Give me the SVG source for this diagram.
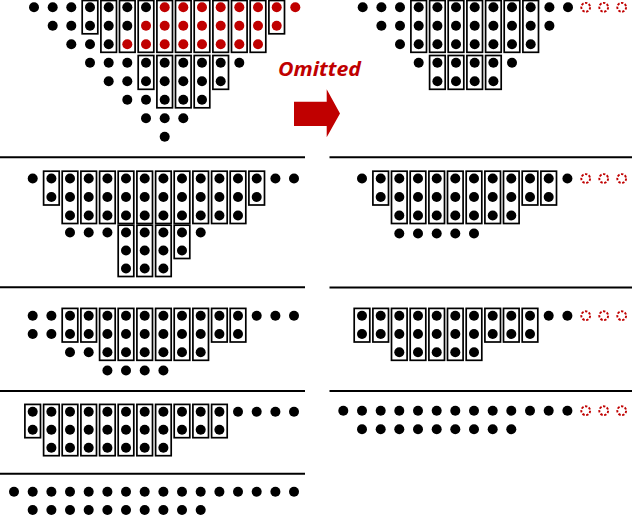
<svg xmlns="http://www.w3.org/2000/svg" width="632" height="516" viewBox="0 0 632 516">
<style>
.d{fill:#000}
.r{fill:#c00000}
.o{fill:none;stroke:#c00000;stroke-width:1.9;stroke-dasharray:2.4 1.5}
.b{fill:none;stroke:#000;stroke-width:1.7}
.ln{stroke:#000;stroke-width:2}
</style>
<rect width="632" height="516" fill="#fff"/>
<g id="separators">
<line class="ln" x1="0" y1="157.3" x2="305" y2="157.3"/>
<line class="ln" x1="0" y1="287.3" x2="305" y2="287.3"/>
<line class="ln" x1="0" y1="391" x2="305" y2="391"/>
<line class="ln" x1="0" y1="473.7" x2="305" y2="473.7"/>
<line class="ln" x1="329.5" y1="157.3" x2="632" y2="157.3"/>
<line class="ln" x1="329.5" y1="287.5" x2="632" y2="287.5"/>
<line class="ln" x1="329.5" y1="391" x2="632" y2="391"/>
</g>
<g id="omitted-arrow">
<text x="278" y="76" font-family="'Open Sans','Liberation Sans',sans-serif" font-size="19.5" font-weight="bold" font-style="italic" fill="#c00000" textLength="83" lengthAdjust="spacingAndGlyphs">Omitted</text>
<polygon points="294,101.7 326.7,101.7 326.7,89.3 340,113.5 326.7,137.3 326.7,126 294,126" fill="#c00000"/>
</g>
<g id="panel1-left">
<g class="boxes">
<rect class="b" x="82.2" y="0.5" width="15.6" height="33.3"/>
<rect class="b" x="100.9" y="0.5" width="15.6" height="51.8"/>
<rect class="b" x="119.5" y="0.5" width="15.6" height="51.8"/>
<rect class="b" x="138.2" y="0.5" width="15.6" height="51.8"/>
<rect class="b" x="156.9" y="0.5" width="15.6" height="51.8"/>
<rect class="b" x="175.5" y="0.5" width="15.6" height="51.8"/>
<rect class="b" x="194.2" y="0.5" width="15.6" height="51.8"/>
<rect class="b" x="212.9" y="0.5" width="15.6" height="51.8"/>
<rect class="b" x="231.5" y="0.5" width="15.6" height="51.8"/>
<rect class="b" x="250.2" y="0.5" width="15.6" height="51.8"/>
<rect class="b" x="268.9" y="0.5" width="15.6" height="33.3"/>
<rect class="b" x="138.2" y="55.5" width="15.6" height="33.8"/>
<rect class="b" x="156.9" y="55.5" width="15.6" height="52.3"/>
<rect class="b" x="175.5" y="55.5" width="15.6" height="52.3"/>
<rect class="b" x="194.2" y="55.5" width="15.6" height="52.3"/>
<rect class="b" x="212.9" y="55.5" width="15.6" height="33.8"/>
</g>
<g class="dots">
<circle class="d" cx="34" cy="7.3" r="5"/><circle class="d" cx="52.7" cy="7.3" r="5"/><circle class="d" cx="71.3" cy="7.3" r="5"/><circle class="d" cx="90" cy="7.3" r="5"/><circle class="d" cx="108.7" cy="7.3" r="5"/><circle class="d" cx="127.3" cy="7.3" r="5"/><circle class="d" cx="146" cy="7.3" r="5"/><circle class="r" cx="164.7" cy="7.3" r="5"/><circle class="r" cx="183.3" cy="7.3" r="5"/><circle class="r" cx="202" cy="7.3" r="5"/><circle class="r" cx="220.7" cy="7.3" r="5"/><circle class="r" cx="239.3" cy="7.3" r="5"/><circle class="r" cx="258" cy="7.3" r="5"/><circle class="r" cx="276.7" cy="7.3" r="5"/><circle class="r" cx="295.3" cy="7.3" r="5"/>
<circle class="d" cx="52.7" cy="25.8" r="5"/><circle class="d" cx="71.3" cy="25.8" r="5"/><circle class="d" cx="90" cy="25.8" r="5"/><circle class="d" cx="108.7" cy="25.8" r="5"/><circle class="d" cx="127.3" cy="25.8" r="5"/><circle class="r" cx="146" cy="25.8" r="5"/><circle class="r" cx="164.7" cy="25.8" r="5"/><circle class="r" cx="183.3" cy="25.8" r="5"/><circle class="r" cx="202" cy="25.8" r="5"/><circle class="r" cx="220.7" cy="25.8" r="5"/><circle class="r" cx="239.3" cy="25.8" r="5"/><circle class="r" cx="258" cy="25.8" r="5"/><circle class="r" cx="276.7" cy="25.8" r="5"/>
<circle class="d" cx="71.3" cy="44.3" r="5"/><circle class="d" cx="90" cy="44.3" r="5"/><circle class="d" cx="108.7" cy="44.3" r="5"/><circle class="r" cx="127.3" cy="44.3" r="5"/><circle class="r" cx="146" cy="44.3" r="5"/><circle class="r" cx="164.7" cy="44.3" r="5"/><circle class="r" cx="183.3" cy="44.3" r="5"/><circle class="r" cx="202" cy="44.3" r="5"/><circle class="r" cx="220.7" cy="44.3" r="5"/><circle class="r" cx="239.3" cy="44.3" r="5"/><circle class="r" cx="258" cy="44.3" r="5"/>
<circle class="d" cx="90" cy="62.8" r="5"/><circle class="d" cx="108.7" cy="62.8" r="5"/><circle class="d" cx="127.3" cy="62.8" r="5"/><circle class="d" cx="146" cy="62.8" r="5"/><circle class="d" cx="164.7" cy="62.8" r="5"/><circle class="d" cx="183.3" cy="62.8" r="5"/><circle class="d" cx="202" cy="62.8" r="5"/><circle class="d" cx="220.7" cy="62.8" r="5"/><circle class="d" cx="239.3" cy="62.8" r="5"/>
<circle class="d" cx="108.7" cy="81.3" r="5"/><circle class="d" cx="127.3" cy="81.3" r="5"/><circle class="d" cx="146" cy="81.3" r="5"/><circle class="d" cx="164.7" cy="81.3" r="5"/><circle class="d" cx="183.3" cy="81.3" r="5"/><circle class="d" cx="202" cy="81.3" r="5"/><circle class="d" cx="220.7" cy="81.3" r="5"/>
<circle class="d" cx="127.3" cy="99.8" r="5"/><circle class="d" cx="146" cy="99.8" r="5"/><circle class="d" cx="164.7" cy="99.8" r="5"/><circle class="d" cx="183.3" cy="99.8" r="5"/><circle class="d" cx="202" cy="99.8" r="5"/>
<circle class="d" cx="146" cy="118.3" r="5"/><circle class="d" cx="164.7" cy="118.3" r="5"/><circle class="d" cx="183.3" cy="118.3" r="5"/>
<circle class="d" cx="164.7" cy="136.8" r="5"/>
</g>
</g>
<g id="panel1-right">
<g class="boxes">
<rect class="b" x="410.9" y="0.5" width="15.6" height="51.8"/>
<rect class="b" x="429.6" y="0.5" width="15.6" height="51.8"/>
<rect class="b" x="448.2" y="0.5" width="15.6" height="51.8"/>
<rect class="b" x="466.9" y="0.5" width="15.6" height="51.8"/>
<rect class="b" x="485.6" y="0.5" width="15.6" height="51.8"/>
<rect class="b" x="504.2" y="0.5" width="15.6" height="51.8"/>
<rect class="b" x="522.9" y="0.5" width="15.6" height="51.8"/>
<rect class="b" x="429.6" y="55.5" width="15.6" height="33.8"/>
<rect class="b" x="448.2" y="55.5" width="15.6" height="33.8"/>
<rect class="b" x="466.9" y="55.5" width="15.6" height="33.8"/>
<rect class="b" x="485.6" y="55.5" width="15.6" height="33.8"/>
</g>
<g class="dots">
<circle class="d" cx="362.7" cy="7.3" r="5"/><circle class="d" cx="381.4" cy="7.3" r="5"/><circle class="d" cx="400" cy="7.3" r="5"/><circle class="d" cx="418.7" cy="7.3" r="5"/><circle class="d" cx="437.4" cy="7.3" r="5"/><circle class="d" cx="456" cy="7.3" r="5"/><circle class="d" cx="474.7" cy="7.3" r="5"/><circle class="d" cx="493.4" cy="7.3" r="5"/><circle class="d" cx="512" cy="7.3" r="5"/><circle class="d" cx="530.7" cy="7.3" r="5"/><circle class="d" cx="549.4" cy="7.3" r="5"/><circle class="d" cx="568" cy="7.3" r="5"/>
<circle class="o" cx="585.7" cy="7.3" r="4.4"/><circle class="o" cx="603.7" cy="7.3" r="4.4"/><circle class="o" cx="621.7" cy="7.3" r="4.4"/>
<circle class="d" cx="381.4" cy="25.8" r="5"/><circle class="d" cx="400" cy="25.8" r="5"/><circle class="d" cx="418.7" cy="25.8" r="5"/><circle class="d" cx="437.4" cy="25.8" r="5"/><circle class="d" cx="456" cy="25.8" r="5"/><circle class="d" cx="474.7" cy="25.8" r="5"/><circle class="d" cx="493.4" cy="25.8" r="5"/><circle class="d" cx="512" cy="25.8" r="5"/><circle class="d" cx="530.7" cy="25.8" r="5"/><circle class="d" cx="549.4" cy="25.8" r="5"/>
<circle class="d" cx="400" cy="44.3" r="5"/><circle class="d" cx="418.7" cy="44.3" r="5"/><circle class="d" cx="437.4" cy="44.3" r="5"/><circle class="d" cx="456" cy="44.3" r="5"/><circle class="d" cx="474.7" cy="44.3" r="5"/><circle class="d" cx="493.4" cy="44.3" r="5"/><circle class="d" cx="512" cy="44.3" r="5"/><circle class="d" cx="530.7" cy="44.3" r="5"/>
<circle class="d" cx="418.7" cy="62.8" r="5"/><circle class="d" cx="437.4" cy="62.8" r="5"/><circle class="d" cx="456" cy="62.8" r="5"/><circle class="d" cx="474.7" cy="62.8" r="5"/><circle class="d" cx="493.4" cy="62.8" r="5"/><circle class="d" cx="512" cy="62.8" r="5"/>
<circle class="d" cx="437.4" cy="81.3" r="5"/><circle class="d" cx="456" cy="81.3" r="5"/><circle class="d" cx="474.7" cy="81.3" r="5"/><circle class="d" cx="493.4" cy="81.3" r="5"/>
</g>
</g>
<g id="panel2-left">
<g class="boxes">
<rect class="b" x="43.6" y="171.2" width="15.6" height="33.8"/>
<rect class="b" x="62.2" y="171.2" width="15.6" height="52.3"/>
<rect class="b" x="80.9" y="171.2" width="15.6" height="52.3"/>
<rect class="b" x="99.6" y="171.2" width="15.6" height="52.3"/>
<rect class="b" x="118.2" y="171.2" width="15.6" height="52.3"/>
<rect class="b" x="136.9" y="171.2" width="15.6" height="52.3"/>
<rect class="b" x="155.6" y="171.2" width="15.6" height="52.3"/>
<rect class="b" x="174.2" y="171.2" width="15.6" height="52.3"/>
<rect class="b" x="192.9" y="171.2" width="15.6" height="52.3"/>
<rect class="b" x="211.6" y="171.2" width="15.6" height="52.3"/>
<rect class="b" x="230.2" y="171.2" width="15.6" height="52.3"/>
<rect class="b" x="248.9" y="171.2" width="15.6" height="33.8"/>
<rect class="b" x="118.2" y="225.2" width="15.6" height="51.3"/>
<rect class="b" x="136.9" y="225.2" width="15.6" height="51.3"/>
<rect class="b" x="155.6" y="225.2" width="15.6" height="51.3"/>
<rect class="b" x="174.2" y="225.2" width="15.6" height="33.3"/>
</g>
<g class="dots">
<circle class="d" cx="32.7" cy="178.5" r="5"/><circle class="d" cx="51.4" cy="178.5" r="5"/><circle class="d" cx="70" cy="178.5" r="5"/><circle class="d" cx="88.7" cy="178.5" r="5"/><circle class="d" cx="107.4" cy="178.5" r="5"/><circle class="d" cx="126" cy="178.5" r="5"/><circle class="d" cx="144.7" cy="178.5" r="5"/><circle class="d" cx="163.4" cy="178.5" r="5"/><circle class="d" cx="182" cy="178.5" r="5"/><circle class="d" cx="200.7" cy="178.5" r="5"/><circle class="d" cx="219.4" cy="178.5" r="5"/><circle class="d" cx="238" cy="178.5" r="5"/><circle class="d" cx="256.7" cy="178.5" r="5"/><circle class="d" cx="275.4" cy="178.5" r="5"/><circle class="d" cx="294" cy="178.5" r="5"/>
<circle class="d" cx="51.4" cy="197" r="5"/><circle class="d" cx="70" cy="197" r="5"/><circle class="d" cx="88.7" cy="197" r="5"/><circle class="d" cx="107.4" cy="197" r="5"/><circle class="d" cx="126" cy="197" r="5"/><circle class="d" cx="144.7" cy="197" r="5"/><circle class="d" cx="163.4" cy="197" r="5"/><circle class="d" cx="182" cy="197" r="5"/><circle class="d" cx="200.7" cy="197" r="5"/><circle class="d" cx="219.4" cy="197" r="5"/><circle class="d" cx="238" cy="197" r="5"/><circle class="d" cx="256.7" cy="197" r="5"/>
<circle class="d" cx="70" cy="215.5" r="5"/><circle class="d" cx="88.7" cy="215.5" r="5"/><circle class="d" cx="107.4" cy="215.5" r="5"/><circle class="d" cx="126" cy="215.5" r="5"/><circle class="d" cx="144.7" cy="215.5" r="5"/><circle class="d" cx="163.4" cy="215.5" r="5"/><circle class="d" cx="182" cy="215.5" r="5"/><circle class="d" cx="200.7" cy="215.5" r="5"/><circle class="d" cx="219.4" cy="215.5" r="5"/><circle class="d" cx="238" cy="215.5" r="5"/>
<circle class="d" cx="70" cy="232.5" r="5"/><circle class="d" cx="88.7" cy="232.5" r="5"/><circle class="d" cx="107.4" cy="232.5" r="5"/><circle class="d" cx="126" cy="232.5" r="5"/><circle class="d" cx="144.7" cy="232.5" r="5"/><circle class="d" cx="163.4" cy="232.5" r="5"/><circle class="d" cx="182" cy="232.5" r="5"/><circle class="d" cx="200.7" cy="232.5" r="5"/>
<circle class="d" cx="126" cy="250.5" r="5"/><circle class="d" cx="144.7" cy="250.5" r="5"/><circle class="d" cx="163.4" cy="250.5" r="5"/><circle class="d" cx="182" cy="250.5" r="5"/>
<circle class="d" cx="126" cy="268.5" r="5"/><circle class="d" cx="144.7" cy="268.5" r="5"/><circle class="d" cx="163.4" cy="268.5" r="5"/>
</g>
</g>
<g id="panel2-right">
<g class="boxes">
<rect class="b" x="372.9" y="171.2" width="15.6" height="33.8"/>
<rect class="b" x="391.5" y="171.2" width="15.6" height="52.3"/>
<rect class="b" x="410.2" y="171.2" width="15.6" height="52.3"/>
<rect class="b" x="428.9" y="171.2" width="15.6" height="52.3"/>
<rect class="b" x="447.5" y="171.2" width="15.6" height="52.3"/>
<rect class="b" x="466.2" y="171.2" width="15.6" height="52.3"/>
<rect class="b" x="484.9" y="171.2" width="15.6" height="52.3"/>
<rect class="b" x="503.5" y="171.2" width="15.6" height="52.3"/>
<rect class="b" x="522.2" y="171.2" width="15.6" height="33.8"/>
<rect class="b" x="540.9" y="171.2" width="15.6" height="33.8"/>
</g>
<g class="dots">
<circle class="d" cx="362" cy="178.5" r="5"/><circle class="d" cx="380.7" cy="178.5" r="5"/><circle class="d" cx="399.3" cy="178.5" r="5"/><circle class="d" cx="418" cy="178.5" r="5"/><circle class="d" cx="436.7" cy="178.5" r="5"/><circle class="d" cx="455.3" cy="178.5" r="5"/><circle class="d" cx="474" cy="178.5" r="5"/><circle class="d" cx="492.7" cy="178.5" r="5"/><circle class="d" cx="511.3" cy="178.5" r="5"/><circle class="d" cx="530" cy="178.5" r="5"/><circle class="d" cx="548.7" cy="178.5" r="5"/><circle class="d" cx="567.4" cy="178.5" r="5"/>
<circle class="o" cx="585.7" cy="178.5" r="4.4"/><circle class="o" cx="603.7" cy="178.5" r="4.4"/><circle class="o" cx="621.7" cy="178.5" r="4.4"/>
<circle class="d" cx="380.7" cy="197" r="5"/><circle class="d" cx="399.3" cy="197" r="5"/><circle class="d" cx="418" cy="197" r="5"/><circle class="d" cx="436.7" cy="197" r="5"/><circle class="d" cx="455.3" cy="197" r="5"/><circle class="d" cx="474" cy="197" r="5"/><circle class="d" cx="492.7" cy="197" r="5"/><circle class="d" cx="511.3" cy="197" r="5"/><circle class="d" cx="530" cy="197" r="5"/><circle class="d" cx="548.7" cy="197" r="5"/>
<circle class="d" cx="399.3" cy="215.5" r="5"/><circle class="d" cx="418" cy="215.5" r="5"/><circle class="d" cx="436.7" cy="215.5" r="5"/><circle class="d" cx="455.3" cy="215.5" r="5"/><circle class="d" cx="474" cy="215.5" r="5"/><circle class="d" cx="492.7" cy="215.5" r="5"/><circle class="d" cx="511.3" cy="215.5" r="5"/>
<circle class="d" cx="399.3" cy="233.5" r="5"/><circle class="d" cx="418" cy="233.5" r="5"/><circle class="d" cx="436.7" cy="233.5" r="5"/><circle class="d" cx="455.3" cy="233.5" r="5"/><circle class="d" cx="474" cy="233.5" r="5"/>
</g>
</g>
<g id="panel3-left">
<g class="boxes">
<rect class="b" x="62.2" y="308.4" width="15.6" height="33.6"/>
<rect class="b" x="80.9" y="308.4" width="15.6" height="33.6"/>
<rect class="b" x="99.6" y="308.4" width="15.6" height="51.9"/>
<rect class="b" x="118.2" y="308.4" width="15.6" height="51.9"/>
<rect class="b" x="136.9" y="308.4" width="15.6" height="51.9"/>
<rect class="b" x="155.6" y="308.4" width="15.6" height="51.9"/>
<rect class="b" x="174.2" y="308.4" width="15.6" height="51.9"/>
<rect class="b" x="192.9" y="308.4" width="15.6" height="51.9"/>
<rect class="b" x="211.6" y="308.4" width="15.6" height="33.6"/>
<rect class="b" x="230.2" y="308.4" width="15.6" height="33.6"/>
</g>
<g class="dots">
<circle class="d" cx="32.7" cy="315.7" r="5"/><circle class="d" cx="51.4" cy="315.7" r="5"/><circle class="d" cx="70" cy="315.7" r="5"/><circle class="d" cx="88.7" cy="315.7" r="5"/><circle class="d" cx="107.4" cy="315.7" r="5"/><circle class="d" cx="126" cy="315.7" r="5"/><circle class="d" cx="144.7" cy="315.7" r="5"/><circle class="d" cx="163.4" cy="315.7" r="5"/><circle class="d" cx="182" cy="315.7" r="5"/><circle class="d" cx="200.7" cy="315.7" r="5"/><circle class="d" cx="219.4" cy="315.7" r="5"/><circle class="d" cx="238" cy="315.7" r="5"/><circle class="d" cx="256.7" cy="315.7" r="5"/><circle class="d" cx="275.4" cy="315.7" r="5"/><circle class="d" cx="294" cy="315.7" r="5"/>
<circle class="d" cx="32.7" cy="334" r="5"/><circle class="d" cx="51.4" cy="334" r="5"/><circle class="d" cx="70" cy="334" r="5"/><circle class="d" cx="88.7" cy="334" r="5"/><circle class="d" cx="107.4" cy="334" r="5"/><circle class="d" cx="126" cy="334" r="5"/><circle class="d" cx="144.7" cy="334" r="5"/><circle class="d" cx="163.4" cy="334" r="5"/><circle class="d" cx="182" cy="334" r="5"/><circle class="d" cx="200.7" cy="334" r="5"/><circle class="d" cx="219.4" cy="334" r="5"/><circle class="d" cx="238" cy="334" r="5"/>
<circle class="d" cx="70" cy="352.3" r="5"/><circle class="d" cx="88.7" cy="352.3" r="5"/><circle class="d" cx="107.4" cy="352.3" r="5"/><circle class="d" cx="126" cy="352.3" r="5"/><circle class="d" cx="144.7" cy="352.3" r="5"/><circle class="d" cx="163.4" cy="352.3" r="5"/><circle class="d" cx="182" cy="352.3" r="5"/><circle class="d" cx="200.7" cy="352.3" r="5"/>
<circle class="d" cx="107.4" cy="370.5" r="5"/><circle class="d" cx="126" cy="370.5" r="5"/><circle class="d" cx="144.7" cy="370.5" r="5"/><circle class="d" cx="163.4" cy="370.5" r="5"/>
</g>
</g>
<g id="panel3-right">
<g class="boxes">
<rect class="b" x="354.2" y="308.4" width="15.6" height="33.6"/>
<rect class="b" x="372.9" y="308.4" width="15.6" height="33.6"/>
<rect class="b" x="391.5" y="308.4" width="15.6" height="51.9"/>
<rect class="b" x="410.2" y="308.4" width="15.6" height="51.9"/>
<rect class="b" x="428.9" y="308.4" width="15.6" height="51.9"/>
<rect class="b" x="447.5" y="308.4" width="15.6" height="51.9"/>
<rect class="b" x="466.2" y="308.4" width="15.6" height="51.9"/>
<rect class="b" x="484.9" y="308.4" width="15.6" height="33.6"/>
<rect class="b" x="503.5" y="308.4" width="15.6" height="33.6"/>
<rect class="b" x="522.2" y="308.4" width="15.6" height="33.6"/>
</g>
<g class="dots">
<circle class="d" cx="362" cy="315.7" r="5"/><circle class="d" cx="380.7" cy="315.7" r="5"/><circle class="d" cx="399.3" cy="315.7" r="5"/><circle class="d" cx="418" cy="315.7" r="5"/><circle class="d" cx="436.7" cy="315.7" r="5"/><circle class="d" cx="455.3" cy="315.7" r="5"/><circle class="d" cx="474" cy="315.7" r="5"/><circle class="d" cx="492.7" cy="315.7" r="5"/><circle class="d" cx="511.3" cy="315.7" r="5"/><circle class="d" cx="530" cy="315.7" r="5"/><circle class="d" cx="548.7" cy="315.7" r="5"/><circle class="d" cx="567.4" cy="315.7" r="5"/>
<circle class="o" cx="585.7" cy="315.7" r="4.4"/><circle class="o" cx="603.7" cy="315.7" r="4.4"/><circle class="o" cx="621.7" cy="315.7" r="4.4"/>
<circle class="d" cx="362" cy="334" r="5"/><circle class="d" cx="380.7" cy="334" r="5"/><circle class="d" cx="399.3" cy="334" r="5"/><circle class="d" cx="418" cy="334" r="5"/><circle class="d" cx="436.7" cy="334" r="5"/><circle class="d" cx="455.3" cy="334" r="5"/><circle class="d" cx="474" cy="334" r="5"/><circle class="d" cx="492.7" cy="334" r="5"/><circle class="d" cx="511.3" cy="334" r="5"/><circle class="d" cx="530" cy="334" r="5"/>
<circle class="d" cx="399.3" cy="352.3" r="5"/><circle class="d" cx="418" cy="352.3" r="5"/><circle class="d" cx="436.7" cy="352.3" r="5"/><circle class="d" cx="455.3" cy="352.3" r="5"/><circle class="d" cx="474" cy="352.3" r="5"/>
</g>
</g>
<g id="panel4-left">
<g class="boxes">
<rect class="b" x="24.9" y="404.4" width="15.6" height="33.3"/>
<rect class="b" x="43.6" y="404.4" width="15.6" height="51.3"/>
<rect class="b" x="62.2" y="404.4" width="15.6" height="51.3"/>
<rect class="b" x="80.9" y="404.4" width="15.6" height="51.3"/>
<rect class="b" x="99.6" y="404.4" width="15.6" height="51.3"/>
<rect class="b" x="118.2" y="404.4" width="15.6" height="51.3"/>
<rect class="b" x="136.9" y="404.4" width="15.6" height="51.3"/>
<rect class="b" x="155.6" y="404.4" width="15.6" height="51.3"/>
<rect class="b" x="174.2" y="404.4" width="15.6" height="33.3"/>
<rect class="b" x="192.9" y="404.4" width="15.6" height="33.3"/>
<rect class="b" x="211.6" y="404.4" width="15.6" height="33.3"/>
</g>
<g class="dots">
<circle class="d" cx="32.7" cy="411.7" r="5"/><circle class="d" cx="51.4" cy="411.7" r="5"/><circle class="d" cx="70" cy="411.7" r="5"/><circle class="d" cx="88.7" cy="411.7" r="5"/><circle class="d" cx="107.4" cy="411.7" r="5"/><circle class="d" cx="126" cy="411.7" r="5"/><circle class="d" cx="144.7" cy="411.7" r="5"/><circle class="d" cx="163.4" cy="411.7" r="5"/><circle class="d" cx="182" cy="411.7" r="5"/><circle class="d" cx="200.7" cy="411.7" r="5"/><circle class="d" cx="219.4" cy="411.7" r="5"/><circle class="d" cx="238" cy="411.7" r="5"/><circle class="d" cx="256.7" cy="411.7" r="5"/><circle class="d" cx="275.4" cy="411.7" r="5"/><circle class="d" cx="294" cy="411.7" r="5"/>
<circle class="d" cx="32.7" cy="429.7" r="5"/><circle class="d" cx="51.4" cy="429.7" r="5"/><circle class="d" cx="70" cy="429.7" r="5"/><circle class="d" cx="88.7" cy="429.7" r="5"/><circle class="d" cx="107.4" cy="429.7" r="5"/><circle class="d" cx="126" cy="429.7" r="5"/><circle class="d" cx="144.7" cy="429.7" r="5"/><circle class="d" cx="163.4" cy="429.7" r="5"/><circle class="d" cx="182" cy="429.7" r="5"/><circle class="d" cx="200.7" cy="429.7" r="5"/><circle class="d" cx="219.4" cy="429.7" r="5"/>
<circle class="d" cx="51.4" cy="447.7" r="5"/><circle class="d" cx="70" cy="447.7" r="5"/><circle class="d" cx="88.7" cy="447.7" r="5"/><circle class="d" cx="107.4" cy="447.7" r="5"/><circle class="d" cx="126" cy="447.7" r="5"/><circle class="d" cx="144.7" cy="447.7" r="5"/><circle class="d" cx="163.4" cy="447.7" r="5"/>
</g>
</g>
<g id="panel4-right">
<circle class="d" cx="343.3" cy="410.7" r="5"/><circle class="d" cx="362" cy="410.7" r="5"/><circle class="d" cx="380.7" cy="410.7" r="5"/><circle class="d" cx="399.3" cy="410.7" r="5"/><circle class="d" cx="418" cy="410.7" r="5"/><circle class="d" cx="436.7" cy="410.7" r="5"/><circle class="d" cx="455.3" cy="410.7" r="5"/><circle class="d" cx="474" cy="410.7" r="5"/><circle class="d" cx="492.7" cy="410.7" r="5"/><circle class="d" cx="511.3" cy="410.7" r="5"/><circle class="d" cx="530" cy="410.7" r="5"/><circle class="d" cx="548.7" cy="410.7" r="5"/><circle class="d" cx="567.4" cy="410.7" r="5"/>
<circle class="o" cx="585.7" cy="410.7" r="4.4"/><circle class="o" cx="603.7" cy="410.7" r="4.4"/><circle class="o" cx="621.7" cy="410.7" r="4.4"/>
<circle class="d" cx="362" cy="429.3" r="5"/><circle class="d" cx="380.7" cy="429.3" r="5"/><circle class="d" cx="399.3" cy="429.3" r="5"/><circle class="d" cx="418" cy="429.3" r="5"/><circle class="d" cx="436.7" cy="429.3" r="5"/><circle class="d" cx="455.3" cy="429.3" r="5"/><circle class="d" cx="474" cy="429.3" r="5"/><circle class="d" cx="492.7" cy="429.3" r="5"/><circle class="d" cx="511.3" cy="429.3" r="5"/>
</g>
<g id="panel5-left">
<circle class="d" cx="14" cy="491.7" r="5"/><circle class="d" cx="32.7" cy="491.7" r="5"/><circle class="d" cx="51.4" cy="491.7" r="5"/><circle class="d" cx="70" cy="491.7" r="5"/><circle class="d" cx="88.7" cy="491.7" r="5"/><circle class="d" cx="107.4" cy="491.7" r="5"/><circle class="d" cx="126" cy="491.7" r="5"/><circle class="d" cx="144.7" cy="491.7" r="5"/><circle class="d" cx="163.4" cy="491.7" r="5"/><circle class="d" cx="182" cy="491.7" r="5"/><circle class="d" cx="200.7" cy="491.7" r="5"/><circle class="d" cx="219.4" cy="491.7" r="5"/><circle class="d" cx="238" cy="491.7" r="5"/><circle class="d" cx="256.7" cy="491.7" r="5"/><circle class="d" cx="275.4" cy="491.7" r="5"/><circle class="d" cx="294" cy="491.7" r="5"/>
<circle class="d" cx="32.7" cy="510" r="5"/><circle class="d" cx="51.4" cy="510" r="5"/><circle class="d" cx="70" cy="510" r="5"/><circle class="d" cx="88.7" cy="510" r="5"/><circle class="d" cx="107.4" cy="510" r="5"/><circle class="d" cx="126" cy="510" r="5"/><circle class="d" cx="144.7" cy="510" r="5"/><circle class="d" cx="163.4" cy="510" r="5"/><circle class="d" cx="182" cy="510" r="5"/><circle class="d" cx="200.7" cy="510" r="5"/>
</g>
</svg>
